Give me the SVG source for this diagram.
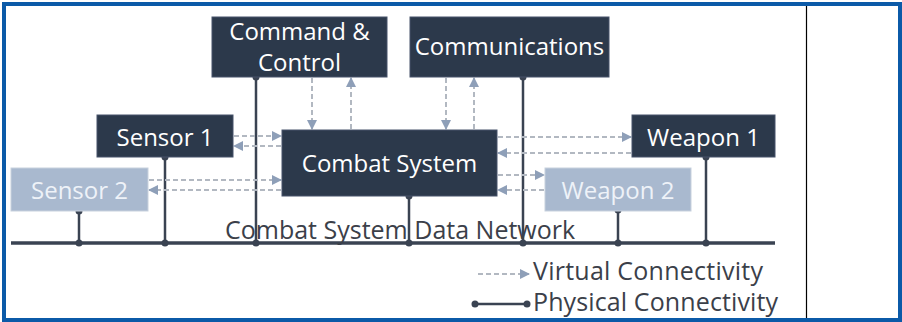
<svg xmlns="http://www.w3.org/2000/svg" width="902" height="322" viewBox="0 0 902 322">
  <style>
    .box { fill: #2c394b; stroke: #46536a; stroke-width: 1; }
    .box-lt { fill: #a9b9cf; stroke: #c8d1dd; stroke-width: 1; }
    .lbl { font-family: "Open Sans", "Noto Sans", "DejaVu Sans", sans-serif; font-size: 24px; fill: #ffffff; text-anchor: middle; }
    .lbl-lt { fill: #eef2f8; }
    .note { font-family: "Open Sans", "Noto Sans", "DejaVu Sans", sans-serif; font-size: 25px; fill: #3b4049; }
    .virt { stroke: #b2b8c1; stroke-width: 2; stroke-dasharray: 5 3; fill: none; }
    .phys { stroke: #3a4352; stroke-width: 2.5; fill: none; }
    .bus { stroke: #3a4352; stroke-width: 3.5; fill: none; }
    .dot { fill: #3a4352; }
  </style>
  <defs>
    <marker id="ah" viewBox="0 0 10 10" refX="9" refY="5" markerWidth="5" markerHeight="5" orient="auto" markerUnits="strokeWidth">
      <path d="M0,0 L10,5 L0,10 Z" fill="#8e9fb8"/>
    </marker>
  </defs>

  <rect width="902" height="322" fill="#ffffff"/>
  <!-- outer frame and side divider -->
  <rect x="4" y="4" width="896" height="316" fill="none" stroke="#0b5aa8" stroke-width="4"/>
  <line x1="806.5" y1="6" x2="806.5" y2="318" stroke="#000000" stroke-width="1.2"/>

  <!-- connectors -->
  <g id="connectors">
    <!-- data network bus -->
    <line class="bus" x1="11" y1="243" x2="775" y2="243"/>
    <!-- physical drops -->
    <line class="phys" x1="79" y1="211" x2="79" y2="243"/>
    <line class="phys" x1="165" y1="157" x2="165" y2="243"/>
    <line class="phys" x1="256" y1="77" x2="256" y2="243"/>
    <line class="phys" x1="409" y1="196" x2="409" y2="243"/>
    <line class="phys" x1="523" y1="77" x2="523" y2="243"/>
    <line class="phys" x1="618" y1="210" x2="618" y2="243"/>
    <line class="phys" x1="706" y1="157" x2="706" y2="243"/>
    <g class="dot">
      <circle cx="79" cy="211" r="3.5"/><circle cx="79" cy="243" r="3.5"/>
      <circle cx="165" cy="157" r="3.5"/><circle cx="165" cy="243" r="3.5"/>
      <circle cx="256" cy="77" r="3.5"/><circle cx="256" cy="243" r="3.5"/>
      <circle cx="409" cy="196" r="3.5"/><circle cx="409" cy="243" r="3.5"/>
      <circle cx="523" cy="77" r="3.5"/><circle cx="523" cy="243" r="3.5"/>
      <circle cx="618" cy="210" r="3.5"/><circle cx="618" cy="243" r="3.5"/>
      <circle cx="706" cy="157" r="3.5"/><circle cx="706" cy="243" r="3.5"/>
    </g>
    <!-- virtual links -->
    <line class="virt" x1="312" y1="78" x2="312" y2="129" marker-end="url(#ah)"/>
    <line class="virt" x1="351" y1="129" x2="351" y2="78" marker-end="url(#ah)"/>
    <line class="virt" x1="446" y1="78" x2="446" y2="129" marker-end="url(#ah)"/>
    <line class="virt" x1="474" y1="129" x2="474" y2="78" marker-end="url(#ah)"/>
    <line class="virt" x1="234" y1="136" x2="281" y2="136" marker-end="url(#ah)"/>
    <line class="virt" x1="281" y1="146" x2="234" y2="146" marker-end="url(#ah)"/>
    <line class="virt" x1="149" y1="180" x2="281" y2="180" marker-end="url(#ah)"/>
    <line class="virt" x1="281" y1="190" x2="149" y2="190" marker-end="url(#ah)"/>
    <line class="virt" x1="498" y1="137" x2="631" y2="137" marker-end="url(#ah)"/>
    <line class="virt" x1="631" y1="153" x2="498" y2="153" marker-end="url(#ah)"/>
    <line class="virt" x1="498" y1="175" x2="544" y2="175" marker-end="url(#ah)"/>
    <line class="virt" x1="544" y1="190" x2="498" y2="190" marker-end="url(#ah)"/>
  </g>

  <!-- nodes -->
  <g id="command-control">
    <rect class="box" x="212" y="17" width="175" height="60"/>
    <text class="lbl" x="299.5" y="40" font-size="20">Command &amp;</text>
    <text class="lbl" x="299.5" y="71" font-size="20">Control</text>
  </g>
  <g id="communications">
    <rect class="box" x="410" y="17" width="199" height="60"/>
    <text class="lbl" x="509.5" y="55" font-size="20">Communications</text>
  </g>
  <g id="sensor-1">
    <rect class="box" x="97" y="115" width="136" height="42"/>
    <text class="lbl" x="165" y="146">Sensor 1</text>
  </g>
  <g id="combat-system">
    <rect class="box" x="282" y="130" width="215" height="66"/>
    <text class="lbl" x="389.5" y="172" font-size="26">Combat System</text>
  </g>
  <g id="weapon-1">
    <rect class="box" x="632" y="115" width="143" height="42"/>
    <text class="lbl" x="703.5" y="146" font-size="26">Weapon 1</text>
  </g>
  <g id="sensor-2">
    <rect class="box-lt" x="11" y="168" width="137" height="43"/>
    <text class="lbl lbl-lt" x="79.5" y="199">Sensor 2</text>
  </g>
  <g id="weapon-2">
    <rect class="box-lt" x="545" y="168" width="146" height="43"/>
    <text class="lbl lbl-lt" x="618" y="199" font-size="26">Weapon 2</text>
  </g>

  <!-- network label -->
  <text class="note" x="225" y="239">Combat System Data Network</text>

  <!-- legend -->
  <g id="legend">
    <line class="virt" stroke-width="1.5" stroke-dasharray="4 2.5" x1="478" y1="274" x2="529" y2="274" marker-end="url(#ah)"/>
    <text class="note" x="533" y="280" font-size="20" textLength="230" lengthAdjust="spacing">Virtual Connectivity</text>
    <line class="phys" x1="475" y1="304" x2="527" y2="304"/>
    <circle class="dot" cx="475" cy="304" r="3.5"/>
    <circle class="dot" cx="527" cy="304" r="3.5"/>
    <text class="note" x="533" y="311" font-size="20" textLength="245" lengthAdjust="spacing">Physical Connectivity</text>
  </g>
</svg>
